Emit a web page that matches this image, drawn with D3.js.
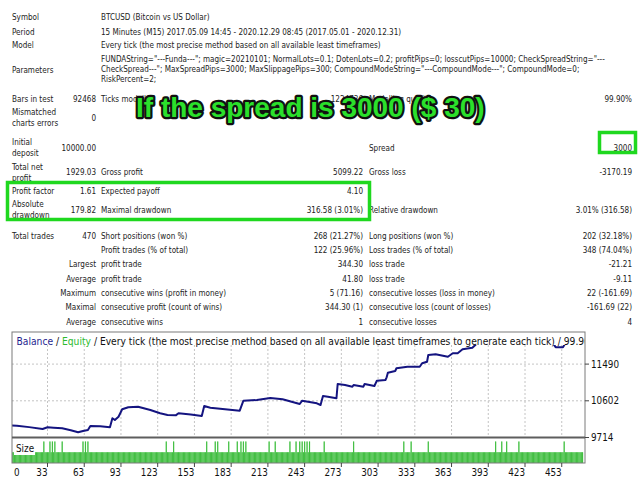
<!DOCTYPE html>
<html>
<head>
<meta charset="utf-8">
<script src="https://cdn.jsdelivr.net/npm/d3@7.9.0/dist/d3.min.js"></script>
<style>
  body { margin: 0; background: #fff; }
  svg { display: block; }
  .rep { font-family: "DejaVu Sans Condensed", "Liberation Sans", sans-serif; font-size: 8.05px; fill: #222; }
  .ax { font-family: "DejaVu Sans Condensed", "Liberation Sans", sans-serif; font-size: 9.8px; fill: #111; }
</style>
</head>
<body>
<script>
// ---- report text ----
const infoLabels = ["Symbol", "Period", "Model"];
const infoValues = [
  "BTCUSD (Bitcoin vs US Dollar)",
  "15 Minutes (M15) 2017.05.09 14:45 - 2020.12.29 08:45 (2017.05.01 - 2020.12.31)",
  "Every tick (the most precise method based on all available least timeframes)"
];
const parameterLines = [
  'FUNDAString="---Funda---"; magic=20210101; NormalLots=0.1; DotenLots=0.2; profitPips=0; losscutPips=10000; CheckSpreadString="---',
  'CheckSpread---"; MaxSpreadPips=3000; MaxSlippagePips=300; CompoundModeString="---CompoundMode---"; CompoundMode=0;',
  'RiskPercent=2;'
];
// label, value, label, value, label, value
const statRows = [
  ["Bars in test", "92468", "Ticks modelled", "1224736", "Modelling quality", "99.90%"],
  ["Mismatched\ncharts errors", "0", "", "", "", ""],
  ["Initial\ndeposit", "10000.00", "", "", "Spread", "3000"],
  ["Total net\nprofit", "1929.03", "Gross profit", "5099.22", "Gross loss", "-3170.19"],
  ["Profit factor", "1.61", "Expected payoff", "4.10", "", ""],
  ["Absolute\ndrawdown", "179.82", "Maximal drawdown", "316.58 (3.01%)", "Relative drawdown", "3.01% (316.58)"],
  ["Total trades", "470", "Short positions (won %)", "268 (21.27%)", "Long positions (won %)", "202 (32.18%)"]
];
// prefix, label, value, label, value
const tradeRows = [
  ["", "Profit trades (% of total)", "122 (25.96%)", "Loss trades (% of total)", "348 (74.04%)"],
  ["Largest", "profit trade", "344.30", "loss trade", "-21.21"],
  ["Average", "profit trade", "41.80", "loss trade", "-9.11"],
  ["Maximum", "consecutive wins (profit in money)", "5 (71.16)", "consecutive losses (loss in money)", "22 (-161.69)"],
  ["Maximal", "consecutive profit (count of wins)", "344.30 (1)", "consecutive loss (count of losses)", "-161.69 (22)"],
  ["Average", "consecutive wins", "1", "consecutive losses", "4"]
];
const overlayText = "If the spread is 3000 ($ 30)";

// ---- chart data ----
const balanceTrades = [0, 8, 18, 29, 33, 38, 45, 52, 58, 62, 66, 68, 76, 84, 86, 88, 91, 94, 99, 107,
  117, 125, 131, 138, 140, 150, 159, 161, 166, 178, 190, 193, 204, 215, 225, 239, 241, 253, 256, 258,
  262, 269, 270, 276, 282, 283, 291, 292, 300, 302, 309, 310, 311, 317, 318, 327, 337, 339, 343, 344,
  350, 360, 362, 364, 368, 372, 380, 384, 395, 410, 425, 440, 446, 448, 454, 456, 462, 470];
const balanceValues = [10010, 10000, 9965, 9920, 9961, 9950, 9937, 9890, 9840, 9870, 9896, 9992, 9985, 9961, 10179, 10138, 10217, 10396, 10445, 10459,
  10380, 10300, 10259, 10255, 10300, 10270, 10234, 10476, 10435, 10400, 10363, 10605, 10622, 10670, 10638, 10525, 10605, 10542, 10500, 10718,
  10701, 10663, 11009, 10985, 10943, 10985, 10943, 11009, 10960, 11089, 11106, 11171, 11282, 11323, 11389, 11427, 11427, 11510, 11548, 11711,
  11727, 11669, 11711, 11752, 11752, 11848, 11887, 11995, 12060, 12130, 12190, 12100, 11990, 11900, 11900, 11995, 12040, 12010];
const tradeCount = 470;
const normalLots = 0.1;
const dotenLots = 0.2;
const dotenTrades = [30, 35, 37, 39, 45, 62, 64, 66, 130, 136, 163, 170, 172, 181, 188, 191, 193, 195,
  214, 219, 231, 236, 239, 241, 243, 245, 247, 259, 283, 324, 330, 344, 399, 404, 408, 418, 455];
const xTicks = [0, 33, 63, 93, 123, 153, 183, 213, 243, 273, 303, 333, 363, 393, 423, 453];
const yTicks = [9714, 10602, 11490];
const titleParts = [
  ["Balance", "#1f1f8f"], [" / ", "#111"], ["Equity", "#2dbb2d"],
  [" / Every tick (the most precise method based on all available least timeframes to generate each tick) / 99.90%", "#111"]
];

const svg = d3.select("body").append("svg").attr("width", 640).attr("height", 480);

// ---- report table ----
const colLabel = 12, colVal1 = 96, colLabel2 = 101, colVal2 = 363, colLabel3 = 369, colVal3 = 632;
const infoY = [16.7, 32.3, 45];
const paramY = [59.3, 69.5, 79.3];
const statY = [99.3, 117.7, 147.7, 172.3, 191, 210, 236];
const tradeY = [250, 264.3, 278.7, 292.7, 307, 321.7];

const rep = svg.append("g").attr("class", "rep");

function put(px, py, txt, anchor) {
  const lines = txt.split("\n");
  lines.forEach((ln, i) => {
    rep.append("text")
      .attr("x", px)
      .attr("y", py + (i - (lines.length - 1) / 2) * 10.8)
      .attr("dy", "0.35em")
      .attr("text-anchor", anchor || "start")
      .text(ln);
  });
}

infoLabels.forEach((l, i) => { put(colLabel, infoY[i], l); put(colLabel2, infoY[i], infoValues[i]); });
put(colLabel, 70, "Parameters");
parameterLines.forEach((l, i) => put(colLabel2, paramY[i], l));
statRows.forEach((r, i) => {
  const yy = statY[i];
  put(colLabel, yy, r[0]);
  put(colVal1, yy, r[1], "end");
  put(colLabel2, yy, r[2]);
  put(colVal2, yy, r[3], "end");
  put(colLabel3, yy, r[4]);
  put(colVal3, yy, r[5], "end");
});
tradeRows.forEach((r, i) => {
  const yy = tradeY[i];
  put(colVal1, yy, r[0], "end");
  put(colLabel2, yy, r[1]);
  put(colVal2, yy, r[2], "end");
  put(colLabel3, yy, r[3]);
  put(colVal3, yy, r[4], "end");
});

// ---- chart ----
const plotLeft = 12, plotRight = 585, plotTop = 332, mainBottom = 437.5, sizeTop = 438.5, plotBottom = 463, bandBottom = 345;

const x = d3.scaleLinear().domain([4, 472]).range([plotLeft, plotRight]);
const y = d3.scaleLinear().domain([9714, 12267]).range([mainBottom, plotTop]);
const ySize = d3.scaleLinear().domain([0, 0.2]).range([plotBottom, 441.5]);

const defs = svg.append("defs");
defs.append("clipPath").attr("id", "clipMain")
  .append("rect").attr("x", plotLeft).attr("y", plotTop).attr("width", plotRight - plotLeft).attr("height", mainBottom - plotTop);
defs.append("clipPath").attr("id", "clipSize")
  .append("rect").attr("x", plotLeft).attr("y", sizeTop).attr("width", plotRight - plotLeft).attr("height", plotBottom - sizeTop);

const ch = svg.append("g");

// grid
ch.append("g").selectAll("line")
  .data(xTicks.filter(t => x(t) > plotLeft + 1))
  .join("line")
  .attr("x1", d => x(d)).attr("x2", d => x(d))
  .attr("y1", bandBottom).attr("y2", mainBottom)
  .attr("stroke", "#c4c4c4").attr("stroke-dasharray", "2,2");
ch.append("g").selectAll("line")
  .data(yTicks.filter(t => y(t) < mainBottom - 2))
  .join("line")
  .attr("x1", plotLeft).attr("x2", plotRight)
  .attr("y1", d => y(d)).attr("y2", d => y(d))
  .attr("stroke", "#c4c4c4").attr("stroke-dasharray", "2,2");

// balance
const balance = balanceTrades.map((t, i) => [t, balanceValues[i]]);
ch.append("path")
  .datum(balance)
  .attr("clip-path", "url(#clipMain)")
  .attr("fill", "none")
  .attr("stroke", "#141480")
  .attr("stroke-width", 2)
  .attr("stroke-linejoin", "round")
  .attr("d", d3.line().x(d => x(d[0])).y(d => y(d[1])));

// title band
ch.append("rect")
  .attr("x", plotLeft).attr("y", plotTop).attr("width", plotRight - plotLeft).attr("height", bandBottom - plotTop)
  .attr("fill", "#fff");
const title = ch.append("g").attr("clip-path", "url(#clipMain)")
  .append("text").attr("class", "ax").style("font-size", "10.2px")
  .attr("x", plotLeft + 4.5).attr("y", 341.5).attr("dy", "0.35em");
titleParts.forEach(p => title.append("tspan").attr("fill", p[1]).text(p[0]));

// size panel
const sizes = d3.range(1, tradeCount + 1).map(n => ({ n, lots: dotenTrades.includes(n) ? dotenLots : normalLots }));
const step = x(1) - x(0);
const sz = ch.append("g").attr("clip-path", "url(#clipSize)");
sz.selectAll("rect")
  .data(sizes)
  .join("rect")
  .attr("x", d => x(d.n) - step / 2)
  .attr("width", step)
  .attr("y", d => ySize(d.lots))
  .attr("height", d => plotBottom - ySize(d.lots))
  .attr("fill", "#74dc74");
sz.selectAll("line")
  .data(sizes)
  .join("line")
  .attr("x1", d => x(d.n)).attr("x2", d => x(d.n))
  .attr("y1", d => ySize(d.lots)).attr("y2", plotBottom)
  .attr("stroke", "#2aae2a").attr("stroke-width", 0.7);
ch.append("rect").attr("x", 14).attr("y", 441).attr("width", 21).attr("height", 14).attr("fill", "#fff");
ch.append("text").attr("class", "ax").attr("x", 16).attr("y", 448.5).attr("dy", "0.35em").text("Size");

// frame
ch.append("rect")
  .attr("x", plotLeft).attr("y", plotTop).attr("width", plotRight - plotLeft).attr("height", plotBottom - plotTop)
  .attr("fill", "none").attr("stroke", "#7a7a7a");
ch.append("line")
  .attr("x1", plotLeft).attr("x2", plotRight).attr("y1", mainBottom).attr("y2", mainBottom)
  .attr("stroke", "#5e5e5e").attr("stroke-width", 2);

// y axis (right)
const ya = ch.append("g");
ya.selectAll("line").data(yTicks).join("line")
  .attr("x1", plotRight).attr("x2", plotRight + 4)
  .attr("y1", d => y(d)).attr("y2", d => y(d))
  .attr("stroke", "#444");
ya.selectAll("text").data(yTicks).join("text")
  .attr("class", "ax")
  .attr("x", plotRight + 6).attr("y", d => y(d)).attr("dy", "0.35em")
  .text(d => d);

// x axis
const xa = ch.append("g");
xa.selectAll("line").data(xTicks.filter(t => x(t) > plotLeft + 1)).join("line")
  .attr("x1", d => x(d)).attr("x2", d => x(d))
  .attr("y1", plotBottom).attr("y2", plotBottom + 4)
  .attr("stroke", "#444");
xa.selectAll("text").data(xTicks).join("text")
  .attr("class", "ax")
  .attr("x", d => Math.max(plotLeft + 2, x(d)))
  .attr("y", 472.5).attr("dy", "0.35em")
  .attr("text-anchor", d => x(d) > plotLeft + 1 ? "end" : "start")
  .text(d => d);

// ---- highlights ----
svg.append("rect")
  .attr("x", 7.5).attr("y", 182.5).attr("width", 362).attr("height", 37)
  .attr("fill", "none").attr("stroke", "#1fd81f").attr("stroke-width", 3.5);
svg.append("rect")
  .attr("x", 599.5).attr("y", 132.5).attr("width", 36).attr("height", 20)
  .attr("fill", "none").attr("stroke", "#1fd81f").attr("stroke-width", 3.5);

svg.append("text")
  .attr("x", 136).attr("y", 116.5)
  .attr("font-family", "Liberation Sans, Arial, sans-serif")
  .attr("font-weight", "bold")
  .attr("font-size", 28)
  .attr("fill", "#2be02b")
  .attr("stroke", "#111")
  .attr("stroke-width", 4.5)
  .attr("stroke-linejoin", "round")
  .attr("paint-order", "stroke")
  .text(overlayText);
</script>
</body>
</html>
